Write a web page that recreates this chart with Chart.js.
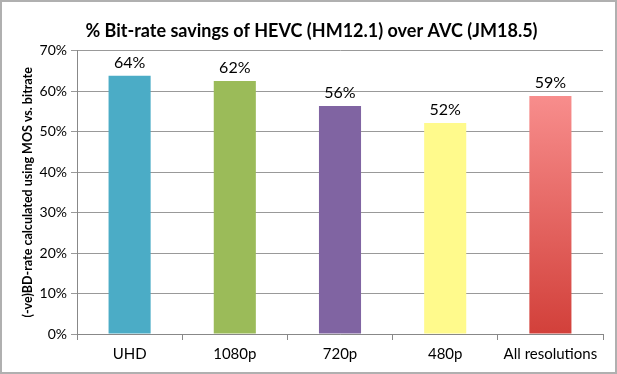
<!DOCTYPE html>
<html>
<head>
<meta charset="utf-8">
<script src="https://cdn.jsdelivr.net/npm/chart.js@4"></script>
<style>
  html, body { margin: 0; padding: 0; background: #fff; }
  #wrap { width: 617px; height: 374px; }
</style>
</head>
<body>
<div id="wrap"><canvas id="bdrate-chart" width="617" height="374"></canvas></div>
<script>
// categories and values
const resolutions = ["UHD", "1080p", "720p", "480p", "All resolutions"];
const savings = [63.8, 62.5, 56.3, 52.1, 58.8];
const savingLabels = ["64%", "62%", "56%", "52%", "59%"];
const barColours = ['#4BACC6', '#9BBB59', '#8064A2', '#FFFA8C', 'gradient'];

const fontFamily = "Lato, 'Open Sans', sans-serif";
const ctx = document.getElementById("bdrate-chart").getContext('2d');

// the last bar fades from light pink at the top to red at the bottom
const barFill = (c) => {
    const colour = barColours[c.dataIndex];
    if (colour !== 'gradient') return colour;
    const area = c.chart.chartArea;
    if (!area) return '#E06666';
    const g = c.chart.ctx.createLinearGradient(0, area.top, 0, area.bottom);
    g.addColorStop(0, '#FF9C9C');
    g.addColorStop(1, '#D2403A');
    return g;
};

// percent labels over each bar
const valueLabels = {
    id: 'valueLabels',
    afterDatasetsDraw(chart) {
        const c = chart.ctx;
        const meta = chart.getDatasetMeta(0);
        c.save();
        c.font = "16px " + fontFamily;
        c.fillStyle = '#000';
        c.textAlign = 'center';
        c.textBaseline = 'bottom';
        meta.data.forEach((bar, i) => {
            c.fillText(savingLabels[i], bar.x, bar.y - 5);
        });
        c.restore();
    }
};

// thin grey frame round the whole picture
const frame = {
    id: 'frame',
    afterDraw(chart) {
        const c = chart.ctx;
        c.save();
        c.strokeStyle = '#B0B0B0';
        c.lineWidth = 2;
        c.strokeRect(1, 1, chart.width - 2, chart.height - 2);
        c.restore();
    }
};

let bdChart = new Chart(ctx, {
    type: 'bar',
    data: {
        labels: resolutions,
        datasets: [{
            data: savings,
            backgroundColor: barFill,
            borderWidth: 0,
            barPercentage: 0.8,
            categoryPercentage: 0.5
        }]
    },
    options: {
        responsive: false,
        animation: false,
        layout: {
            padding: { left: 20, right: 14, bottom: 6 }
        },
        scales: {
            x: {
                grid: {
                    offset: true,
                    drawOnChartArea: false,
                    color: '#888',
                    tickLength: 6
                },
                border: { color: '#888' },
                ticks: {
                    color: '#000',
                    font: { size: 15, family: fontFamily },
                    padding: 5,
                    maxRotation: 0
                }
            },
            y: {
                min: 0,
                max: 70,
                afterFit: (scale) => { scale.width = 57; },
                grid: {
                    color: '#999',
                    tickLength: 6
                },
                border: { color: '#888' },
                ticks: {
                    stepSize: 10,
                    color: '#000',
                    font: { size: 14, family: fontFamily },
                    padding: 4,
                    callback: (v) => v + '%'
                },
                title: {
                    display: true,
                    text: '(-ve)BD-rate calculated using MOS vs. bitrate',
                    color: '#000',
                    font: { size: 12.5, weight: 'bold', family: fontFamily },
                    padding: 0
                }
            }
        },
        plugins: {
            legend: { display: false },
            tooltip: { enabled: false },
            title: {
                display: true,
                text: '% Bit-rate savings of HEVC (HM12.1) over AVC (JM18.5)',
                color: '#000',
                font: { size: 18, weight: 'bold', family: fontFamily },
                padding: { top: 20, bottom: 9 }
            }
        }
    },
    plugins: [valueLabels, frame]
});
</script>
</body>
</html>
